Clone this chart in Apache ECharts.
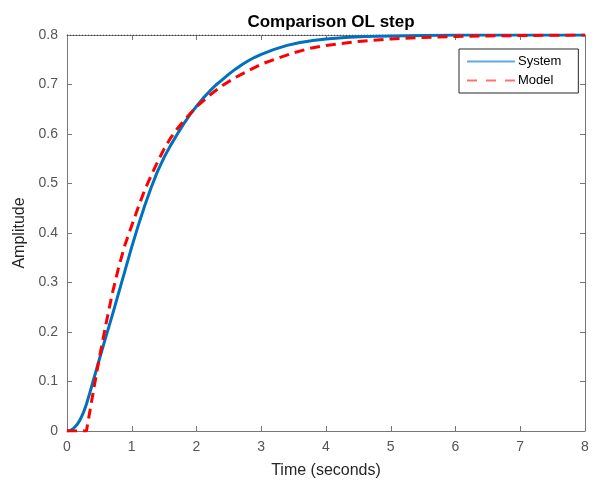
<!DOCTYPE html>
<html><head><meta charset="utf-8">
<script src="https://cdn.jsdelivr.net/npm/echarts@6/dist/echarts.min.js"></script>
<style>html,body{margin:0;padding:0;background:#fff}#c{width:605px;height:484px}</style>
</head><body><div id="c"></div>
<script>
const titleText = "Comparison OL step";
const xLabel = "Time (seconds)";
const yLabel = "Amplitude";
const seriesNames = ["System", "Model"];

const sysTime = [0, 0.05, 0.1, 0.15, 0.2, 0.25, 0.3, 0.35, 0.4, 0.5, 0.6, 0.7, 0.8, 0.9, 1.0, 1.1, 1.2, 1.3, 1.4, 1.5, 1.6, 1.7, 1.8, 1.9, 2.0, 2.1, 2.2, 2.3, 2.4, 2.5, 2.6, 2.7, 2.8, 2.9, 3.0, 3.2, 3.4, 3.6, 3.8, 4.0, 4.3, 4.6, 5.0, 5.5, 6.0, 7.0, 8.0];
const sysAmp  = [0, 0.001, 0.005, 0.012, 0.022, 0.036, 0.054, 0.076, 0.099, 0.145, 0.190, 0.234, 0.280, 0.326, 0.372, 0.415, 0.455, 0.492, 0.525, 0.553, 0.577, 0.599, 0.620, 0.639, 0.656, 0.672, 0.686, 0.699, 0.710, 0.721, 0.731, 0.740, 0.748, 0.755, 0.761, 0.771, 0.779, 0.785, 0.789, 0.792, 0.795, 0.797, 0.798, 0.799, 0.8, 0.8, 0.8];

const modelTime = [0, 0.3, 0.4, 0.5, 0.6, 0.7, 0.8, 0.9, 1.0, 1.1, 1.2, 1.3, 1.4, 1.5, 1.6, 1.7, 1.8, 1.9, 2.0, 2.2, 2.4, 2.6, 2.8, 3.0, 3.25, 3.5, 3.75, 4.0, 4.5, 5.0, 5.5, 6.0, 7.0, 8.0];
const modelAmp  = [0, 0, 0.075, 0.148, 0.215, 0.278, 0.332, 0.378, 0.415, 0.452, 0.487, 0.516, 0.544, 0.570, 0.592, 0.610, 0.626, 0.641, 0.655, 0.678, 0.698, 0.714, 0.728, 0.741, 0.753, 0.764, 0.773, 0.779, 0.787, 0.792, 0.795, 0.797, 0.799, 0.8];

const finalValue = 0.8;
const xTicks = {min: 0, max: 8, interval: 1};
const yTicks = {min: 0, max: 0.8, interval: 0.1};

const chart = echarts.init(document.getElementById('c'), null, {renderer: 'canvas'});
const FONT = 'Liberation Sans';
const axisCol = '#777';
const labCol = '#555';

function axisBase(extra) {
  return Object.assign({
    type: 'value',
    axisLine: {show: true, onZero: false, lineStyle: {color: axisCol, width: 1}},
    axisTick: {show: true, inside: true, length: 5, lineStyle: {color: axisCol}},
    splitLine: {show: false}
  }, extra);
}

chart.setOption({
  animation: false,
  backgroundColor: '#fff',
  title: {
    text: titleText, left: 326, top: 9, textAlign: 'center',
    textStyle: {fontFamily: FONT, fontSize: 17, fontWeight: 'bold', color: '#000'}
  },
  grid: {left: 67, top: 35, width: 518, height: 399, containLabel: false},
  legend: {
    orient: 'vertical', left: 459, top: 49, width: 119,
    padding: [6, 17, 6, 8], itemGap: 6, itemWidth: 48, itemHeight: 12,
    borderColor: '#262626', borderWidth: 1, backgroundColor: '#fff',
    textStyle: {fontFamily: FONT, fontSize: 13, color: '#000', padding: [0, 0, 0, -2]},
    data: [
      {name: seriesNames[0], icon: 'path://M0,5L48,5L48,7L0,7Z', itemStyle: {color: '#62a9dd'}},
      {name: seriesNames[1], icon: 'path://M0,5L10,5L10,7L0,7ZM19,5L29,5L29,7L19,7ZM38,5L48,5L48,7L38,7Z', itemStyle: {color: '#ff7070'}}
    ]
  },
  xAxis: [
    axisBase({min: xTicks.min, max: xTicks.max, interval: xTicks.interval, position: 'bottom',
      name: xLabel, nameLocation: 'middle', nameGap: 32,
      nameTextStyle: {fontFamily: FONT, fontSize: 16, color: '#262626'},
      axisLabel: {fontFamily: FONT, fontSize: 14, color: labCol, margin: 9}}),
    axisBase({min: xTicks.min, max: xTicks.max, interval: xTicks.interval, position: 'top', axisLabel: {show: false}})
  ],
  yAxis: [
    axisBase({min: yTicks.min, max: yTicks.max, interval: yTicks.interval, position: 'left',
      name: yLabel, nameLocation: 'middle', nameGap: 37,
      nameTextStyle: {fontFamily: FONT, fontSize: 16, color: '#262626'},
      axisLabel: {fontFamily: FONT, fontSize: 14, color: labCol, margin: 9, formatter: v => (Math.round(v*10)/10).toString()}}),
    axisBase({min: yTicks.min, max: yTicks.max, interval: yTicks.interval, position: 'right', axisLabel: {show: false}})
  ],
  series: [
    {
      name: 'final', type: 'line', silent: true, symbol: 'none',
      data: [[xTicks.min, finalValue], [xTicks.max, finalValue]],
      lineStyle: {color: '#222', width: 1, type: [1, 2]}, z: 1
    },
    {
      name: seriesNames[0], type: 'line', symbol: 'none', smooth: false,
      data: sysTime.map((t, i) => [t, sysAmp[i]]),
      lineStyle: {color: '#0072BD', width: 3, join: 'round'}, itemStyle: {color: '#0072BD'}, z: 2
    },
    {
      name: seriesNames[1], type: 'line', symbol: 'none', smooth: false,
      data: modelTime.map((t, i) => [t, modelAmp[i]]),
      lineStyle: {color: '#FF0000', width: 3, type: [10, 6]}, itemStyle: {color: '#FF0000'}, z: 3
    }
  ]
});
</script></body></html>
